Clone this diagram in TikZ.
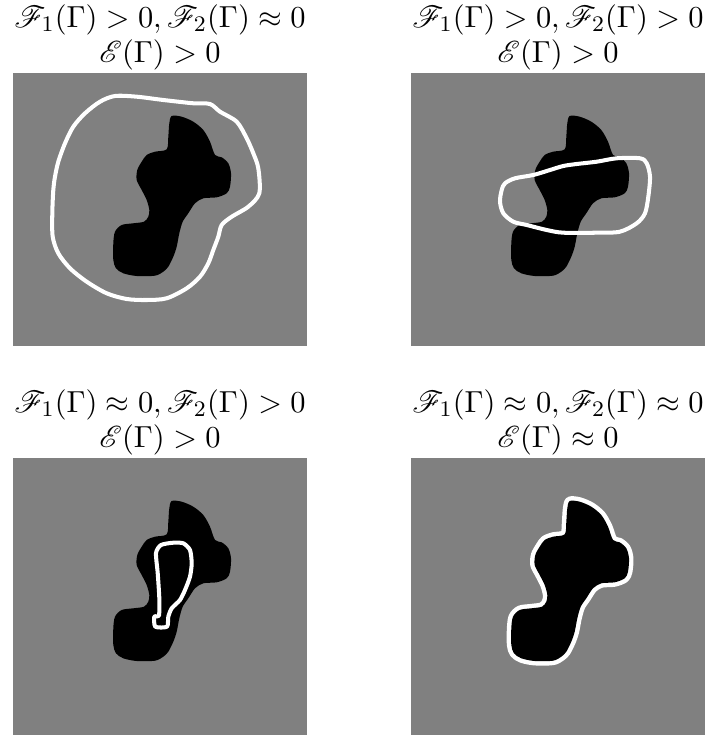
\documentclass[tikz,border=0pt]{standalone}
\usepackage{amsmath,amssymb}
\usepackage{mathrsfs}
\usetikzlibrary{positioning}
\definecolor{bggray}{RGB}{128,128,128}
% the object to be segmented (same in every panel)
\newcommand{\blobshape}{plot[smooth cycle] coordinates {(158.7,43) (168.7,43.7) (180.3,48.7) (190.3,57) (197,68.7) (202,82) (208.7,84.3) (215.3,90.3) (218,100.3) (217,113.7) (213.7,120.3) (203.7,124.3) (190.3,125.3) (182,130.3) (175.3,140.3) (169.7,148.7) (166.3,160.3) (163.7,173.7) (160.3,183.7) (155.3,193.7) (150.3,198.7) (142,202.7) (123.7,203) (110.3,200.3) (103,195.3) (100.3,187) (100.3,170.3) (102,158.7) (108.7,152) (120.3,150.3) (131,148.7) (135.3,143.7) (136.3,137) (133.7,127) (128.7,117) (123.7,107) (124.3,97) (128.7,88.7) (133.7,82) (142,78.7) (153.7,76.3) (155.3,63.7) (156.3,50.3)}}

\begin{document}
\begin{tikzpicture}[
  x=0.36pt, y=-0.36pt,
  node distance=40.32pt and 37.44pt,
  panel/.style={rectangle, fill=bggray, inner sep=0pt, outer sep=0pt, minimum width=105.84pt, minimum height=98.28pt},
  lowpanel/.style={panel, minimum height=99.72pt},
  lbl/.style={align=center, inner sep=0pt, font=\fontsize{10.95}{12.6}\selectfont},
  contour/.style={white, line width=1.45pt, line join=round}
]
  \useasboundingbox (0,0) rectangle (710,735);
  \node[panel, anchor=north west] (p1) at (13,73) {};
  \node[panel, right=of p1] (p2) {};
  \node[lowpanel, below=of p1] (p3) {};
  \node[lowpanel, right=of p3] (p4) {};
  \node[lbl, above=0.9pt of p1] (l1) {$\mathscr{F}_1(\Gamma) > 0, \mathscr{F}_2(\Gamma) \approx 0$\\$\mathscr{E}(\Gamma) > 0$};
  \node[lbl, above=0.9pt of p2] (l2) {$\mathscr{F}_1(\Gamma) > 0, \mathscr{F}_2(\Gamma) > 0$\\$\mathscr{E}(\Gamma) > 0$};
  \node[lbl, above=0.9pt of p3] (l3) {$\mathscr{F}_1(\Gamma) \approx 0, \mathscr{F}_2(\Gamma) > 0$\\$\mathscr{E}(\Gamma) > 0$};
  \node[lbl, above=0.9pt of p4] (l4) {$\mathscr{F}_1(\Gamma) \approx 0, \mathscr{F}_2(\Gamma) \approx 0$\\$\mathscr{E}(\Gamma) \approx 0$};
  % contour too large
  \begin{scope}[shift={(p1.north west)}]
    \fill[black] \blobshape;
    \draw[contour] plot[smooth cycle] coordinates {(102,23) (123.7,23.7) (150.3,27) (180.3,30.3) (197,31) (207,38.7) (223.7,48.7) (233.7,65.3) (240.3,80.3) (245.3,95.3) (246.3,120.3) (235.3,133.7) (218.7,143.7) (208.7,152) (205.3,163.7) (200.3,177) (195.3,190.3) (187,203.7) (173.7,215.3) (153.7,225.3) (133.7,227) (113.7,226) (93.7,220.3) (73.7,208.7) (57,195.3) (45.3,180.3) (39.7,163.7) (39.3,140.3) (40.3,117) (42,103.7) (45.3,88.7) (52,70.3) (60.3,53.7) (72,40.3) (87,28.7)};
  \end{scope}
  % contour crossing the object
  \begin{scope}[shift={(p2.north west)}]
    \fill[black] \blobshape;
    \draw[contour] plot[smooth cycle] coordinates {(90.7,117) (94,110.3) (104,105.3) (122.3,102) (139,97) (152.3,93) (165.7,91) (185.7,88.7) (205.7,85.3) (229,85.3) (235.7,90.3) (239,103.7) (237.3,123.7) (234,140.3) (225.7,150.3) (209,158.7) (185.7,159.7) (152.3,159.7) (135.7,157) (115.7,152) (102.3,148.7) (92.3,140.3) (89,128.7)};
  \end{scope}
  % contour too small
  \begin{scope}[shift={(p3.north west)}]
    \fill[black] \blobshape;
    \draw[contour] plot[smooth cycle, tension=0.4] coordinates {(160.3,84.7) (170.3,85.3) (177,92) (178.7,105.3) (177,118.7) (172,132) (167,142) (158.7,150.3) (155.3,158.7) (154,168.7) (142.3,168.7) (141.3,158.7) (146,157.3) (146.3,140) (144.7,115) (143,95) (148,87)};
  \end{scope}
  % contour on the boundary
  \begin{scope}[shift={(p4.north west)}]
    \draw[white, line width=3.2pt, line join=round] \blobshape;
    \fill[black] \blobshape;
  \end{scope}
\end{tikzpicture}
\end{document}
